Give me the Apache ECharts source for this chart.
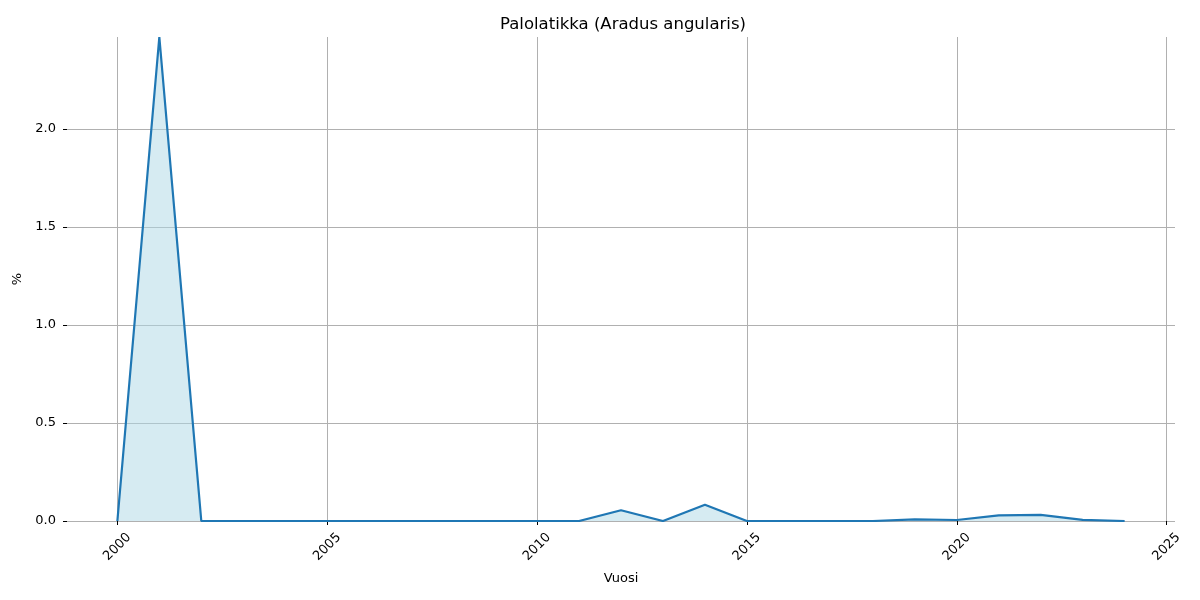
<!DOCTYPE html>
<html><head><meta charset="utf-8">
<script src="https://cdn.jsdelivr.net/npm/echarts@6/dist/echarts.min.js"></script>
<style>html,body{margin:0;padding:0;background:#fff}#c{width:1200px;height:600px}</style>
</head><body><div id="c"></div>
<script>
const years = [2000,2001,2002,2003,2004,2005,2006,2007,2008,2009,2010,2011,2012,2013,2014,2015,2016,2017,2018,2019,2020,2021,2022,2023,2024];
const values = [0,2.47,0,0,0,0,0,0,0,0,0,0,0.055,0,0.083,0,0,0,0,0.008,0.005,0.029,0.031,0.006,0];
const xTicks = [2000,2005,2010,2015,2020,2025];
const yTicks = [0,0.5,1.0,1.5,2.0];
const title = 'Palolatikka (Aradus angularis)';
const xName = 'Vuosi';
const yName = '%';

const chart = echarts.init(document.getElementById('c'));
const font = 'DejaVu Sans';
const span = years[years.length-1]-years[0];
chart.setOption({
  animation: false,
  title: {text: title, left: 495, top: 11,
    textStyle: {fontFamily: font, fontSize: 16.5, fontWeight: 'normal', color: '#000'}},
  grid: {left: 67, right: 25, top: 37, bottom: 79, outerBoundsMode: 'none', containLabel: false},
  xAxis: {
    type: 'value', min: years[0]-span*0.05, max: years[years.length-1]+span*0.05,
    name: xName, nameLocation: 'middle', nameGap: 51,
    nameTextStyle: {fontFamily: font, fontSize: 13, color: '#000'},
    axisLine: {show: false},
    axisTick: {show: true, length: 4, lineStyle: {color: '#000'}, customValues: xTicks},
    axisLabel: {rotate: 45, margin: 26, align: 'center', verticalAlign: 'middle',
      fontFamily: font, fontSize: 13, color: '#000', customValues: xTicks,
      formatter: v => String(v)},
    splitLine: {show: true, lineStyle: {color: '#b0b0b0', width: 1}, customValues: xTicks}
  },
  yAxis: {
    type: 'value', min: 0, max: Math.max(...values),
    name: yName, nameLocation: 'middle', nameGap: 38, nameRotate: 90,
    nameTextStyle: {fontFamily: font, fontSize: 13, color: '#000'},
    axisLine: {show: false},
    axisTick: {show: true, length: 4, lineStyle: {color: '#000'}, customValues: yTicks},
    axisLabel: {margin: 11, fontFamily: font, fontSize: 13, color: '#000', customValues: yTicks,
      formatter: v => v.toFixed(1)},
    splitLine: {show: true, lineStyle: {color: '#b0b0b0', width: 1}, customValues: yTicks}
  },
  series: [{
    type: 'line', data: years.map((y,i)=>[y, values[i]]), symbol: 'none',
    lineStyle: {color: '#1f77b4', width: 2.2},
    areaStyle: {color: '#add8e6', opacity: 0.5}
  }]
});
</script></body></html>
